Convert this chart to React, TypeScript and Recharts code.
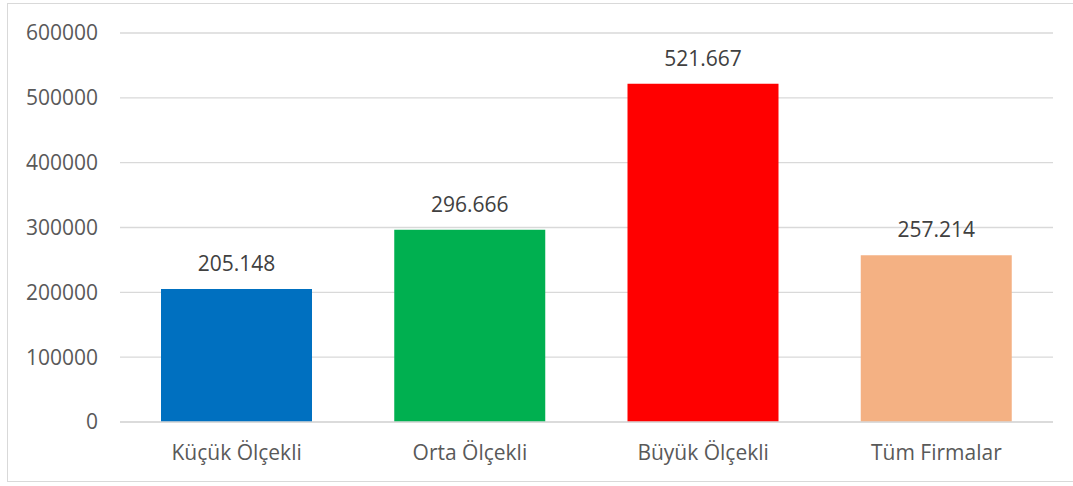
import React from "react";
import { BarChart, Bar, XAxis, YAxis, CartesianGrid, LabelList, Cell } from "recharts";

const categories = ["Küçük Ölçekli", "Orta Ölçekli", "Büyük Ölçekli", "Tüm Firmalar"];
const values = [205148, 296666, 521667, 257214];
const colors = ["#0070C0", "#00B050", "#FF0000", "#F4B183"];
const yTicks = [0, 100000, 200000, 300000, 400000, 500000, 600000];

const data = categories.map((name, i) => ({ name, value: values[i] }));

const fmt = (v: number) => String(v).replace(/\B(?=(\d{3})+(?!\d))/g, ".");

const FONT = "'Open Sans', sans-serif";

export default function App() {
  return (
    <div style={{ position: "absolute", left: 0, top: 0, width: 1073, height: 486, background: "#fff", overflow: "hidden" }}>
      <div
        style={{
          position: "absolute",
          left: 7,
          top: 3,
          width: 1080,
          height: 479,
          border: "1.5px solid #d9d9d9",
          boxSizing: "border-box",
        }}
      />
      <div style={{ position: "absolute", left: 0, top: 0 }}>
        <BarChart
          width={1073}
          height={486}
          data={data}
          margin={{ top: 33, right: 20, bottom: 0, left: 0 }}
        >
          <CartesianGrid vertical={false} stroke="#d9d9d9" strokeWidth={1.3} />
          <XAxis
            dataKey="name"
            height={64}
            axisLine={{ stroke: "#d9d9d9", strokeWidth: 1.3 }}
            tickLine={false}
            tickSize={6}
            tickMargin={17}
            tick={{ fill: "#595959", fontSize: 21, fontFamily: FONT }}
          />
          <YAxis
            width={120}
            domain={[0, 600000]}
            ticks={yTicks}
            axisLine={false}
            tickLine={false}
            tickSize={6}
            tickMargin={16}
            tick={{ fill: "#595959", fontSize: 21, fontFamily: FONT }}
          />
          <Bar dataKey="value" barSize={151} isAnimationActive={false}>
            {data.map((d, i) => (
              <Cell key={d.name} fill={colors[i]} />
            ))}
            <LabelList
              dataKey="value"
              position="top"
              offset={18}
              formatter={(v: any) => fmt(Number(v))}
              style={{ fill: "#404040", fontSize: 21, fontFamily: FONT }}
            />
          </Bar>
        </BarChart>
      </div>
    </div>
  );
}
